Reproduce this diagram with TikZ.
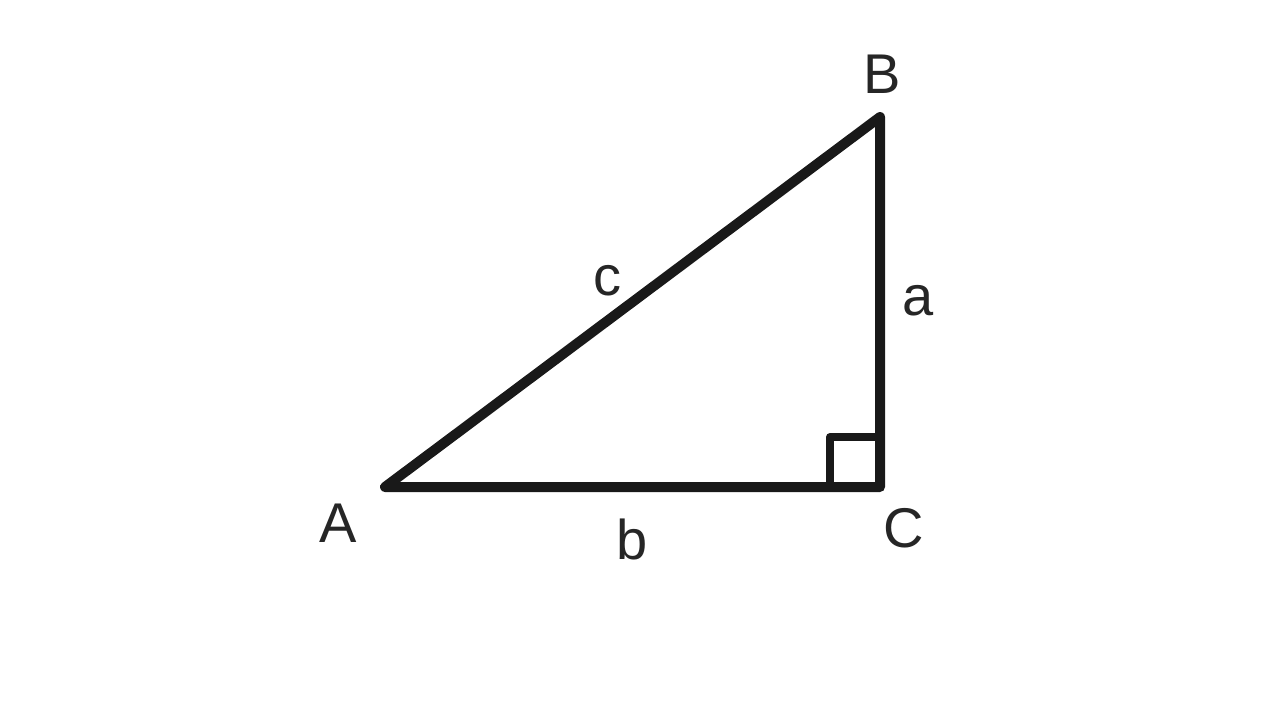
\documentclass[tikz,border=0pt]{standalone}
\usepackage{fontspec}
\setmainfont{Liberation Sans}
\begin{document}
\begin{tikzpicture}[x=1pt,y=-1pt,
  edge/.style={line width=10pt,line cap=round,line join=round,black!90},
  lbl/.style={font=\fontsize{56}{60}\selectfont,text=black!85,inner sep=0pt}]
\useasboundingbox (0,0) rectangle (1280,720);
\coordinate (A) at (385,487);
\coordinate (B) at (880,117);
\coordinate (C) at (880,487);
\coordinate (R1) at (830,487);
\coordinate (R2) at (830,437);
\coordinate (R3) at (880,437);
\draw[edge] (A) -- (B) -- (C) -- cycle;
\draw[edge,line width=8pt] (R1) -- (R2) -- (R3);
\node[lbl] (lA) at (338,523) {A};
\node[lbl] (lB) at (882,74) {B};
\node[lbl] (lC) at (904,528) {C};
\node[lbl] (la) at (918,301) {a};
\node[lbl] (lb) at (632,539) {b};
\node[lbl] (lc) at (607,281) {c};
\end{tikzpicture}
\end{document}
